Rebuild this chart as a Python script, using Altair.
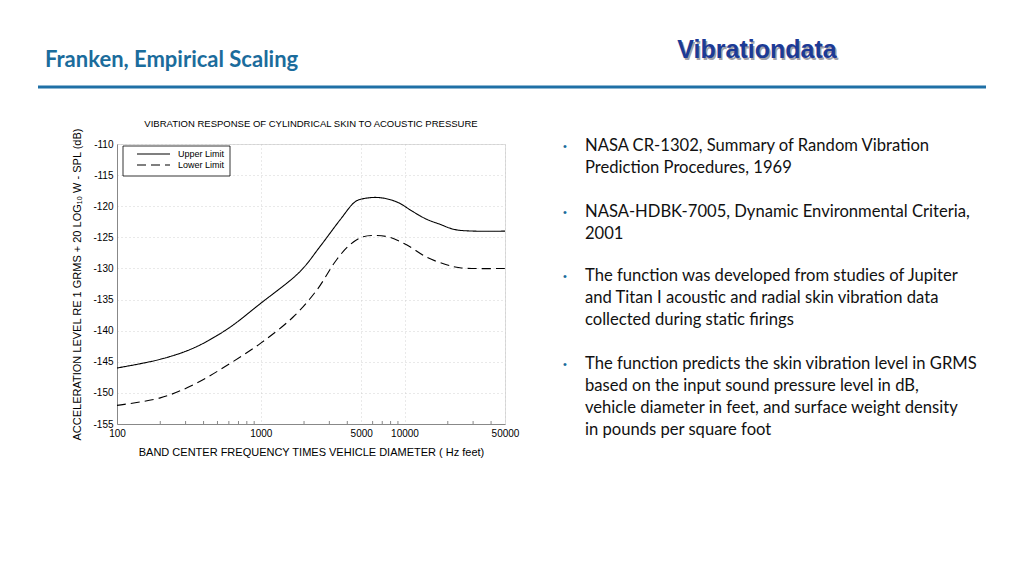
import altair as alt
import pandas as pd

# ---- data ----
freq_upper = [100, 200, 340, 580, 1000, 1875, 2580, 3560, 4520, 5030, 6560, 8810, 11500, 14260, 17630, 23000, 50000]
level_upper = [-146.0, -144.6, -142.8, -139.8, -135.6, -130.5, -126.5, -122.2, -119.3, -118.85, -118.6, -119.3, -120.9, -122.1, -122.9, -123.8, -124.0]
freq_lower = [100, 200, 340, 580, 1000, 1680, 2450, 3370, 4170, 5160, 6400, 7910, 10330, 14260, 19600, 24270, 50000]
level_lower = [-152.0, -150.8, -148.7, -145.6, -142.0, -137.8, -133.5, -128.6, -126.2, -124.9, -124.7, -125.0, -126.2, -128.2, -129.4, -129.9, -130.0]
series = ["Upper Limit", "Lower Limit"]
x_ticks = [100, 1000, 5000, 10000, 50000]
x_minor = [200, 300, 400, 500, 600, 700, 800, 900, 2000, 3000, 4000, 6000, 7000, 8000, 9000, 20000, 30000, 40000]
y_ticks = [-155, -150, -145, -140, -135, -130, -125, -120, -115, -110]

page_title = "Franken, Empirical Scaling"
brand = "Vibrationdata"
chart_title = "VIBRATION RESPONSE OF CYLINDRICAL SKIN TO ACOUSTIC PRESSURE"
x_title = "BAND CENTER FREQUENCY TIMES VEHICLE DIAMETER ( Hz feet)"
y_title = "ACCELERATION LEVEL RE 1 GRMS + 20 LOG\u2081\u2080 W - SPL (dB)"
bullets = [
    ["NASA CR-1302, Summary of Random Vibration", "Prediction Procedures, 1969"],
    ["NASA-HDBK-7005, Dynamic Environmental Criteria,", "2001"],
    ["The function was developed from studies of Jupiter",
     "and Titan I acoustic and radial skin vibration data",
     "collected during static firings"],
    ["The function predicts the skin vibration level in GRMS",
     "based on the input sound pressure level in dB,",
     "vehicle diameter in feet, and surface weight density",
     "in pounds per square foot"],
]

df = pd.concat([
    pd.DataFrame({"freq": freq_upper, "level": level_upper, "series": series[0]}),
    pd.DataFrame({"freq": freq_lower, "level": level_lower, "series": series[1]}),
])
minor_df = pd.DataFrame({"freq": x_minor})
one = pd.DataFrame({"k": [0]})

FONT = "Liberation Sans"
xscale = alt.Scale(type="log", domain=[100, 50000])
yscale = alt.Scale(domain=[-155, -110])

lines = alt.Chart(df).mark_line(color="black", strokeWidth=1.1, interpolate="catmull-rom").encode(
    x=alt.X("freq:Q", scale=xscale,
            axis=alt.Axis(values=x_ticks, format="d", title=x_title, grid=True,
                          gridDash=[1, 3], gridColor="#c8c8c8", gridWidth=0.8,
                          ticks=False, tickSize=0, labelPadding=4, titlePadding=8,
                          labelFlush=False, titleFontWeight=400,
                          labelExpr="'' + datum.value")),
    y=alt.Y("level:Q", scale=yscale,
            axis=alt.Axis(values=y_ticks, title=y_title, grid=True,
                          gridDash=[1, 3], gridColor="#c8c8c8", gridWidth=0.8,
                          ticks=False, tickSize=0, labelPadding=4, titlePadding=10,
                          titleFontWeight=400,
                          labelExpr="'' + datum.value")),
    strokeDash=alt.StrokeDash("series:N",
                              scale=alt.Scale(domain=series, range=[[1, 0], [9, 5]]),
                              legend=None),
    detail="series:N",
)

minor_ticks = alt.Chart(minor_df).mark_rule(color="#555555", strokeWidth=0.7).encode(
    x=alt.X("freq:Q", scale=xscale), y=alt.value(277), y2=alt.value(280))


def txt(text, x, y, size, color="#000000", font=FONT, weight="normal",
        align="left", baseline="alphabetic", line_height=None):
    kw = dict(text=text, align=align, baseline=baseline, font=font,
              fontSize=size, fontWeight=weight, color=color)
    if line_height is not None:
        kw["lineHeight"] = line_height
    return alt.Chart(one).mark_text(**kw).encode(x=alt.value(x), y=alt.value(y))


legend_box = alt.Chart(one).mark_rect(fill="white", stroke="black", strokeWidth=0.8).encode(
    x=alt.value(6), x2=alt.value(113), y=alt.value(2), y2=alt.value(32))
legend_solid = alt.Chart(one).mark_rule(color="black", strokeWidth=1.1).encode(
    x=alt.value(20), x2=alt.value(53), y=alt.value(10))
legend_dash = alt.Chart(one).mark_rule(color="black", strokeWidth=1.1, strokeDash=[9, 5]).encode(
    x=alt.value(20), x2=alt.value(53), y=alt.value(21))
legend_t1 = txt(series[0], 61, 10, 9, baseline="middle")
legend_t2 = txt(series[1], 61, 21, 9, baseline="middle")

title_t = txt(chart_title, 194, -20, 9.5, align="center", baseline="middle")

top_rule = alt.Chart(one).mark_rule(color="#1f70a6", strokeWidth=3).encode(
    x=alt.value(-79), x2=alt.value(869), y=alt.value(-57))
page_t = txt(page_title, -72, -77, 22, color="#1b6c9c", font="Lato", weight="bold")
brand_shadow = txt(brand, 641.5, -84.5, 25, color="#a0a0a8", weight="bold", align="center")
brand_t = txt(brand, 640, -86, 25, color="#1c3a96", weight="bold", align="center")

bullet_y = [6, 72, 136, 224]
bullet_layers = []
for lines_txt, by in zip(bullets, bullet_y):
    bullet_layers.append(txt("\u2022", 448, by - 3, 11, color="#1b6c9c", align="center", baseline="middle"))
    bullet_layers.append(txt(lines_txt, 468, by + 1, 16.6, color="#111111", font="Lato", line_height=22))

chart = alt.layer(
    lines, minor_ticks, legend_box, legend_solid, legend_dash, legend_t1, legend_t2, title_t,
    top_rule, page_t, brand_shadow, brand_t, *bullet_layers
).properties(
    width=388, height=280,
    autosize=alt.AutoSizeParams(type="none"),
    padding={"left": 109, "top": 136, "right": 500, "bottom": 130},
).configure_view(
    stroke="black", strokeWidth=1
).configure_axis(
    labelFont=FONT, labelFontSize=9, labelColor="#222222",
    titleFont=FONT, titleFontSize=9, titleFontWeight=400, titleColor="#222222",
    domainColor="black", domainWidth=1,
).configure(background="white")

chart.save("out.html", embed_options={"renderer": "svg", "actions": False})
